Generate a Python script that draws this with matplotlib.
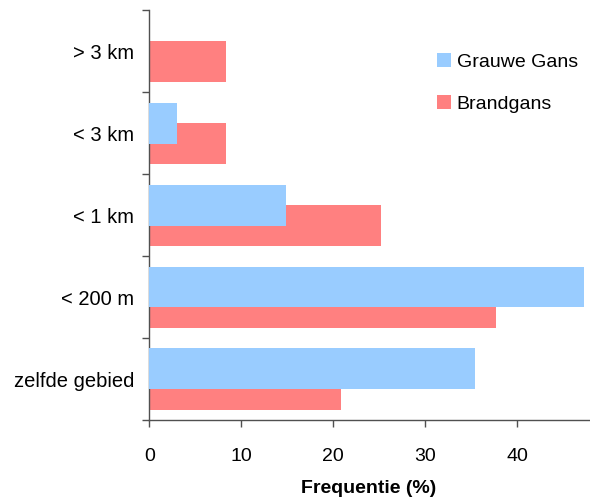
import numpy as np
import matplotlib.pyplot as plt

plt.rcParams['font.family'] = ['Liberation Sans', 'DejaVu Sans']

# afstand tussen broedplaats en plek van terugmelding
afstand = ['zelfde gebied', '< 200 m', '< 1 km', '< 3 km', '> 3 km']
grauwe_gans = [35.4, 47.3, 14.9, 3.0, 0.0]
brandgans = [20.8, 37.7, 25.2, 8.3, 8.3]

blauw = '#99CCFF'
rood = '#FF8080'
grijs = '#505050'
fs = 14

fig = plt.figure(figsize=(5.9, 4.99), dpi=100)
ax = fig.add_axes([0.253, 0.158, 0.745, 0.821])

y = np.arange(len(afstand))
h = 0.5
ax.barh(y - 0.125, brandgans, height=h, color=rood, label='Brandgans', zorder=2)
ax.barh(y + 0.125, grauwe_gans, height=h, color=blauw, label='Grauwe Gans', zorder=3)

ax.set_xlim(0, 47.8)
ax.set_ylim(-0.5, len(afstand) - 0.5)
ax.set_xticks([0, 10, 20, 30, 40])

# labels in het midden, streepjes op de grenzen tussen de klassen
ax.set_yticks(y)
ax.set_yticklabels(afstand, fontsize=14.5)
ax.tick_params(axis='y', which='major', length=0, pad=11)
ax.set_yticks(np.arange(-0.5, len(afstand)), minor=True)
ax.tick_params(axis='y', which='minor', length=5, width=1, color=grijs, direction='out')
ax.tick_params(axis='x', length=5, width=1, color=grijs, direction='out', pad=15,
               labelsize=fs)

for s in ['top', 'right']:
    ax.spines[s].set_visible(False)
for s in ['left', 'bottom']:
    ax.spines[s].set_color(grijs)
    ax.spines[s].set_linewidth(1)

ax.set_xlabel('Frequentie (%)', fontsize=fs, fontweight='bold', labelpad=11)

handles, labels = ax.get_legend_handles_labels()
ax.legend(handles[::-1], labels[::-1], loc='upper left', frameon=False,
          fontsize=fs, handlelength=0.72, handleheight=0.72, handletextpad=0.3,
          labelspacing=1.25, borderpad=0, borderaxespad=0,
          bbox_to_anchor=((437 - 149.3) / 439.7, 1 - (53 - 10.7) / 409.7))

fig.savefig('out.png', dpi=100)
